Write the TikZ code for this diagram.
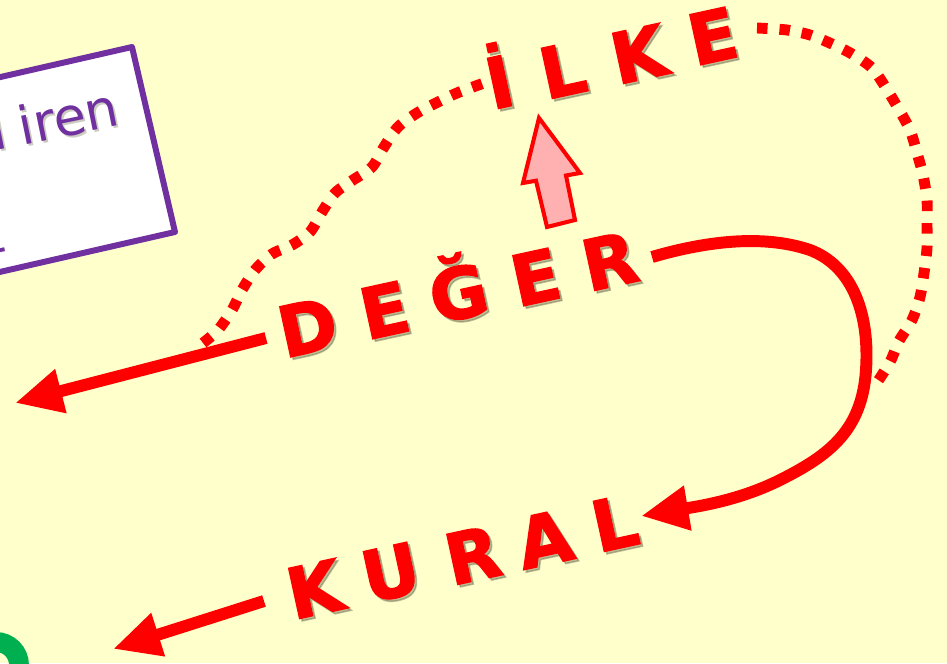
\documentclass[tikz,border=0pt]{standalone}
\usepackage{fontspec}
\setmainfont{DejaVu Sans}
\newfontfamily\wordfont{DejaVu Sans Bold}[FakeBold=2.2]
\usetikzlibrary{arrows.meta}
\definecolor{bg}{RGB}{255,255,204}
\definecolor{myred}{RGB}{255,0,0}
\definecolor{pinkf}{RGB}{255,176,176}
\definecolor{purp}{RGB}{112,48,160}
\definecolor{grn}{RGB}{0,176,80}
\definecolor{shad}{RGB}{110,110,80}
\begin{document}
\begin{tikzpicture}[x=0.02cm,y=-0.02cm,
  letter/.style={font=\wordfont\fontsize{40}{40}\selectfont, text=myred, inner sep=0pt, anchor=base, rotate=12.3},
  lshadow/.style={letter, text=shad, opacity=0.45},
  bigarrow/.style={draw=myred, line width=6.8pt, line cap=butt, -{Triangle[length=27pt,width=24pt]}},
  dots/.style={draw=myred, line width=6.2pt, dash pattern=on 6pt off 6.8pt},
  blockarrow/.style={draw=myred, line width=2.3pt, fill=pinkf, line join=miter},
  boxstyle/.style={draw=purp, line width=3.4pt, fill=white, line join=round},
  boxtext/.style={font=\fontsize{30}{30}\selectfont, text=purp, inner sep=0pt, anchor=base east, rotate=11.5}]
\fill[bg] (0,0) rectangle (947,663);
\useasboundingbox (0,0) rectangle (947,663);
\clip (0,0) rectangle (947,663);

% purple box (cut off at the left)
\draw[boxstyle] (-258,136) -- (132,47) -- (175,232) -- (-215,321) -- cycle;
\node[boxtext, text=shad, opacity=0.35] at (124,127) {d\kern8pt iren};
\node[boxtext] (boxtxt) at (122,125) {d\kern8pt iren};
\node[boxtext] (boxtxt2) at (7,251) {t};

% green fragment
\draw[grn, line width=11.3pt] (-4,665) circle [radius=0.46cm];

% words
\foreach \ch/\x/\y/\n in {D/313/352/d1, E/390/335/d2, Ğ/464/318/d3, E/541/302/d4, R/615/286/d5,
                           İ/505/107/i1, L/568/95/i2, K/644/79/i3, E/718/61/i4,
                           K/320/614/k1, U/396/597/k2, R/478/580/k3, A/550/564/k4, L/620/548/k5}
{
  \node[lshadow] at (\x+2.5,\y+2.5) {\ch};
  \node[letter] (\n) at (\x,\y) {\ch};
}

% coordinates
\coordinate (a1s) at (266,338);
\coordinate (a1e) at (15,403);
\coordinate (a2s) at (264,601);
\coordinate (a2e) at (113,649);
\coordinate (cs) at (652,257);
\coordinate (ce) at (641,516);

% straight arrows
\draw[bigarrow] (a1s) -- (a1e);
\draw[bigarrow] (a2s) -- (a2e);

% curved arrow DEGER -> KURAL
\draw[bigarrow] (cs) .. controls (700,243) and (760,233) .. (810,250)
  .. controls (850,265) and (870,310) .. (866,370)
  .. controls (862,430) and (830,455) .. (780,480)
  .. controls (740,500) and (700,506) .. (ce);

% dotted paths
\draw[dots] plot[smooth] coordinates {(203,343) (218,330) (232,310) (242,290) (255,270) (272,254) (292,245) (310,232) (322,212) (335,193) (353,180) (372,167) (384,147) (398,127) (417,113) (436,103) (457,93) (484,83)};
\draw[dots] plot[smooth] coordinates {(757,28) (787,30) (810,35) (832,44) (852,54) (872,68) (886,88) (898,108) (910,130) (917,153) (923,175) (927,200) (927,223) (927,248) (924,273) (920,297) (912,320) (899,341) (890,362) (876,384)};

% pink block arrow
\draw[blockarrow] (539,118) -- (580,173) -- (566,175.5) -- (575,220) -- (547,227) -- (536,180.7) -- (523,183) -- cycle;
\end{tikzpicture}
\end{document}
